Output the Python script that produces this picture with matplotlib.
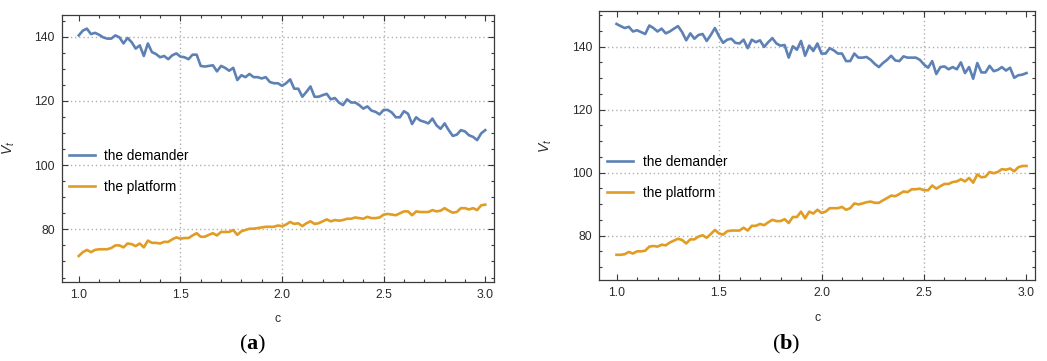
import numpy as np
import matplotlib
matplotlib.use("Agg")
import matplotlib.pyplot as plt
from matplotlib.ticker import MultipleLocator

plt.rcParams['font.family'] = ['Liberation Sans', 'DejaVu Sans']
plt.rcParams['mathtext.fontset'] = 'custom'
plt.rcParams['mathtext.rm'] = 'Liberation Serif'
plt.rcParams['mathtext.it'] = 'Liberation Sans:italic'
plt.rcParams['mathtext.bf'] = 'Liberation Serif:bold'

c_values = np.round(np.arange(1.0, 3.0001, 0.02), 2)

demander_a = [140.4, 141.9, 142.5, 140.8, 141.2, 140.6, 139.8, 139.4, 139.4, 140.4,
              139.8, 137.9, 139.6, 138.3, 136.3, 137.3, 134.0, 137.9, 135.2, 134.6,
              133.6, 134.0, 133.0, 134.2, 134.8, 133.8, 133.6, 133.0, 134.4, 134.4,
              130.9, 130.7, 130.9, 131.1, 129.2, 130.9, 130.3, 129.4, 130.3, 126.5,
              128.0, 127.4, 128.4, 127.4, 127.4, 127.0, 127.4, 125.9, 125.5, 125.5,
              124.7, 125.5, 126.7, 123.8, 123.8, 121.3, 122.8, 124.5, 121.3, 121.3,
              121.8, 122.2, 120.5, 120.9, 119.5, 118.7, 120.5, 119.5, 119.5, 118.7,
              117.6, 118.3, 117.0, 116.6, 115.8, 117.2, 117.2, 116.4, 114.9, 114.9,
              116.8, 116.0, 112.8, 114.9, 113.9, 113.5, 113.0, 114.5, 112.4, 111.3,
              113.0, 110.9, 109.1, 109.5, 110.9, 110.5, 109.3, 108.8, 107.8, 109.9,
              110.9]

platform_a = [71.7, 72.9, 73.6, 72.9, 73.6, 73.8, 73.8, 73.8, 74.2, 75.0,
              75.0, 74.4, 75.6, 75.4, 74.8, 75.6, 74.4, 76.5, 75.8, 75.8,
              75.6, 76.1, 76.1, 76.9, 77.5, 77.1, 77.3, 77.3, 78.1, 78.8,
              77.7, 77.7, 78.3, 78.8, 78.1, 79.2, 79.2, 79.2, 79.8, 78.3,
              79.4, 79.8, 80.2, 80.2, 80.4, 80.6, 80.8, 80.8, 80.8, 81.2,
              81.0, 81.5, 82.3, 81.7, 81.9, 81.0, 81.9, 82.5, 81.7, 81.9,
              82.5, 83.1, 82.5, 82.9, 82.7, 82.9, 83.3, 83.3, 83.7, 83.5,
              83.3, 83.9, 83.5, 83.5, 83.7, 84.6, 84.8, 84.6, 84.4, 85.0,
              85.6, 85.6, 84.4, 85.6, 85.4, 85.4, 85.4, 86.0, 85.6, 85.8,
              86.6, 85.8, 85.2, 85.4, 86.6, 86.6, 86.2, 86.6, 86.0, 87.5,
              87.7]

demander_b = [147.2, 146.5, 145.9, 146.3, 144.8, 145.2, 144.6, 144.0, 146.7, 145.9,
              144.8, 145.7, 144.2, 144.8, 145.7, 146.5, 144.6, 142.0, 144.2, 142.5,
              143.7, 144.0, 141.8, 143.7, 145.9, 143.3, 141.2, 142.2, 142.5, 141.2,
              141.0, 142.2, 139.5, 142.2, 141.4, 142.0, 139.9, 141.4, 142.7, 141.0,
              140.3, 140.5, 136.5, 140.1, 139.0, 141.8, 137.1, 140.3, 138.6, 141.0,
              137.8, 137.8, 139.5, 138.8, 137.8, 137.8, 135.4, 135.4, 137.8, 136.5,
              136.5, 136.7, 135.8, 134.5, 133.5, 134.8, 135.8, 137.1, 135.6, 135.4,
              136.9, 136.5, 136.5, 136.5, 135.8, 134.3, 133.3, 135.4, 131.3, 133.5,
              133.7, 132.8, 133.5, 132.8, 135.0, 131.6, 133.5, 129.8, 134.8, 131.8,
              131.8, 133.9, 132.2, 132.6, 133.5, 132.4, 133.3, 130.1, 130.9, 131.1,
              131.6]

platform_b = [73.9, 73.9, 74.1, 74.8, 74.3, 75.0, 75.0, 75.2, 76.5, 76.7,
              76.5, 77.1, 76.9, 77.8, 78.4, 79.0, 78.6, 77.5, 78.8, 78.8,
              79.7, 80.1, 79.3, 80.5, 81.8, 80.7, 80.3, 81.4, 81.6, 81.6,
              81.6, 82.5, 81.6, 83.1, 83.1, 83.7, 83.3, 84.2, 85.0, 84.6,
              84.6, 85.2, 84.0, 85.9, 85.9, 87.6, 85.5, 87.6, 87.0, 88.2,
              87.2, 87.6, 88.7, 88.7, 88.7, 89.1, 88.2, 88.7, 90.2, 89.9,
              90.2, 90.6, 90.8, 90.4, 90.4, 91.2, 91.9, 92.7, 92.5, 93.2,
              94.0, 93.8, 94.7, 94.7, 94.9, 94.4, 94.4, 95.9, 94.9, 95.7,
              96.4, 96.4, 97.0, 97.2, 97.9, 97.2, 98.3, 96.8, 99.4, 98.5,
              98.7, 100.2, 99.8, 100.2, 101.1, 100.9, 101.3, 100.4, 101.7, 102.1,
              102.1]

series_labels = ["the demander", "the platform"]
panel_labels = ["a", "b"]
x_ticks = [1.0, 1.5, 2.0, 2.5, 3.0]
y_ticks = [80, 100, 120, 140]
x_grid = [1.5, 2.0, 2.5]

BLUE = '#5E81B5'
ORANGE = '#E19C24'
FRAME = '#3a3a3a'
TXT = '#2b2b2b'

W, H = 1047, 361
fig = plt.figure(figsize=(W / 100, H / 100), dpi=100)

def px_axes(l, t, r, b):
    return fig.add_axes([l / W, 1 - b / H, (r - l) / W, (b - t) / H])

panels = [
    dict(rect=(61.7, 14.7, 494.0, 281.7), ylim=(63.7, 146.85), data=(demander_a, platform_a),
         leg=(0.017, 0.413), cap_x=253),
    dict(rect=(599.3, 10.7, 1035.3, 280.0), ylim=(65.9, 151.4), data=(demander_b, platform_b),
         leg=(0.018, 0.381), cap_x=786),
]

for p, lab in zip(panels, panel_labels):
    ax = px_axes(*p['rect'])
    ax.set_xlim(0.916, 3.043)
    ax.set_ylim(*p['ylim'])
    for xv in x_grid:
        ax.axvline(xv, color='#b0b0b0', lw=1.0, ls=(0, (1, 2)), zorder=0)
    for yv in y_ticks:
        ax.axhline(yv, color='#b0b0b0', lw=1.0, ls=(0, (1, 2)), zorder=0)
    d, pl = p['data']
    ax.plot(c_values, d, color=BLUE, lw=1.9, label=series_labels[0])
    ax.plot(c_values, pl, color=ORANGE, lw=1.9, label=series_labels[1])
    ax.set_xticks(x_ticks)
    ax.set_xticklabels([f"{v:.1f}" for v in x_ticks])
    ax.set_yticks(y_ticks)
    ax.xaxis.set_minor_locator(MultipleLocator(0.1))
    ax.yaxis.set_minor_locator(MultipleLocator(5))
    ax.tick_params(which='both', direction='in', top=True, right=True, color=FRAME,
                   labelsize=8.8, labelcolor=TXT, width=0.8)
    ax.tick_params(which='major', length=4.5, pad=5)
    ax.tick_params(which='minor', length=2.5)
    for s in ax.spines.values():
        s.set_color(FRAME)
        s.set_linewidth(0.9)
    ax.set_xlabel('c', fontsize=8.8, color=TXT)
    ax.xaxis.set_label_coords(0.5, -0.117)
    ax.set_ylabel(r'$V_t$', fontsize=10, color=TXT)
    ax.yaxis.set_label_coords(-0.104, 0.5)
    ax.legend(loc='center left', bbox_to_anchor=p['leg'], frameon=False, fontsize=9.8,
              borderpad=0, borderaxespad=0, handlelength=1.9, handletextpad=0.7,
              labelspacing=1.25)
    fig.text(p['cap_x'] / W, 1 - 344 / H, r'($\mathbf{' + lab + r'}$)', fontsize=16,
             family='Liberation Serif', ha='center', va='center', color='black')

fig.savefig('out.png', dpi=100)
